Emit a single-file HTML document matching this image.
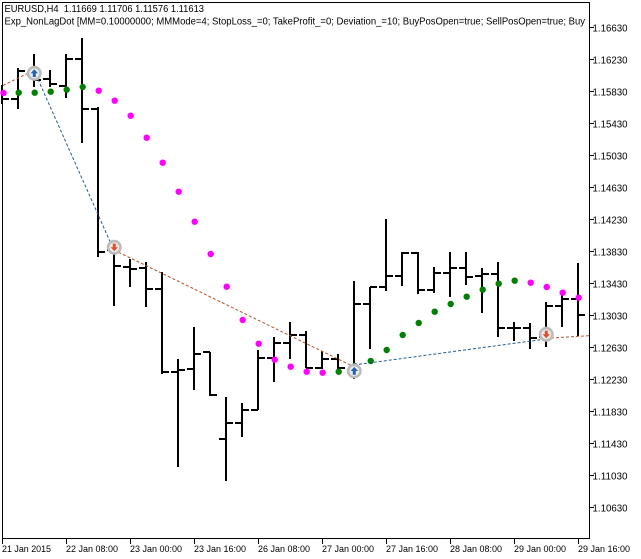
<!DOCTYPE html>
<html><head><meta charset="utf-8"><style>
html,body{margin:0;padding:0;background:#fff;}
svg{display:block;}
text{font-family:"Liberation Sans",Arial,sans-serif;fill:#000;white-space:pre;}
</style></head><body>
<svg width="641" height="559" viewBox="0 0 641 559" xmlns="http://www.w3.org/2000/svg">
<rect width="641" height="559" fill="#fff"/>
<!-- plot border -->
<rect x="2.5" y="2.5" width="587" height="536" fill="none" stroke="#000" stroke-width="1"/>
<!-- price ticks -->
<g stroke="#000" stroke-width="1">
<line x1="590" y1="27.5" x2="594" y2="27.5"/><line x1="590" y1="59.5" x2="594" y2="59.5"/>
<line x1="590" y1="91.5" x2="594" y2="91.5"/><line x1="590" y1="123.5" x2="594" y2="123.5"/>
<line x1="590" y1="155.5" x2="594" y2="155.5"/><line x1="590" y1="187.5" x2="594" y2="187.5"/>
<line x1="590" y1="219.5" x2="594" y2="219.5"/><line x1="590" y1="251.5" x2="594" y2="251.5"/>
<line x1="590" y1="283.5" x2="594" y2="283.5"/><line x1="590" y1="315.5" x2="594" y2="315.5"/>
<line x1="590" y1="347.5" x2="594" y2="347.5"/><line x1="590" y1="379.5" x2="594" y2="379.5"/>
<line x1="590" y1="411.5" x2="594" y2="411.5"/><line x1="590" y1="443.5" x2="594" y2="443.5"/>
<line x1="590" y1="475.5" x2="594" y2="475.5"/><line x1="590" y1="507.5" x2="594" y2="507.5"/>
</g>
<g font-size="10">
<text x="592.5" y="31.3" textLength="35" lengthAdjust="spacingAndGlyphs">1.16630</text>
<text x="592.5" y="63.3" textLength="35" lengthAdjust="spacingAndGlyphs">1.16230</text>
<text x="592.5" y="95.3" textLength="35" lengthAdjust="spacingAndGlyphs">1.15830</text>
<text x="592.5" y="127.3" textLength="35" lengthAdjust="spacingAndGlyphs">1.15430</text>
<text x="592.5" y="159.3" textLength="35" lengthAdjust="spacingAndGlyphs">1.15030</text>
<text x="592.5" y="191.3" textLength="35" lengthAdjust="spacingAndGlyphs">1.14630</text>
<text x="592.5" y="223.3" textLength="35" lengthAdjust="spacingAndGlyphs">1.14230</text>
<text x="592.5" y="255.3" textLength="35" lengthAdjust="spacingAndGlyphs">1.13830</text>
<text x="592.5" y="287.3" textLength="35" lengthAdjust="spacingAndGlyphs">1.13430</text>
<text x="592.5" y="319.3" textLength="35" lengthAdjust="spacingAndGlyphs">1.13030</text>
<text x="592.5" y="351.3" textLength="35" lengthAdjust="spacingAndGlyphs">1.12630</text>
<text x="592.5" y="383.3" textLength="35" lengthAdjust="spacingAndGlyphs">1.12230</text>
<text x="592.5" y="415.3" textLength="35" lengthAdjust="spacingAndGlyphs">1.11830</text>
<text x="592.5" y="447.3" textLength="35" lengthAdjust="spacingAndGlyphs">1.11430</text>
<text x="592.5" y="479.3" textLength="35" lengthAdjust="spacingAndGlyphs">1.11030</text>
<text x="592.5" y="511.3" textLength="35" lengthAdjust="spacingAndGlyphs">1.10630</text>
</g>
<!-- time ticks -->
<g stroke="#000" stroke-width="1">
<line x1="2.5" y1="539" x2="2.5" y2="544"/><line x1="66.5" y1="539" x2="66.5" y2="544"/>
<line x1="130.5" y1="539" x2="130.5" y2="544"/><line x1="194.5" y1="539" x2="194.5" y2="544"/>
<line x1="258.5" y1="539" x2="258.5" y2="544"/><line x1="322.5" y1="539" x2="322.5" y2="544"/>
<line x1="386.5" y1="539" x2="386.5" y2="544"/><line x1="450.5" y1="539" x2="450.5" y2="544"/>
<line x1="514.5" y1="539" x2="514.5" y2="544"/><line x1="578.5" y1="539" x2="578.5" y2="544"/>
</g>
<g font-size="9.5">
<text x="2" y="552" textLength="49" lengthAdjust="spacingAndGlyphs">21 Jan 2015</text>
<text x="66" y="552" textLength="52" lengthAdjust="spacingAndGlyphs">22 Jan 08:00</text>
<text x="130" y="552" textLength="52" lengthAdjust="spacingAndGlyphs">23 Jan 00:00</text>
<text x="194" y="552" textLength="52" lengthAdjust="spacingAndGlyphs">23 Jan 16:00</text>
<text x="258" y="552" textLength="52" lengthAdjust="spacingAndGlyphs">26 Jan 08:00</text>
<text x="322" y="552" textLength="52" lengthAdjust="spacingAndGlyphs">27 Jan 00:00</text>
<text x="386" y="552" textLength="52" lengthAdjust="spacingAndGlyphs">27 Jan 16:00</text>
<text x="450" y="552" textLength="52" lengthAdjust="spacingAndGlyphs">28 Jan 08:00</text>
<text x="514" y="552" textLength="52" lengthAdjust="spacingAndGlyphs">29 Jan 00:00</text>
<text x="578" y="552" textLength="52" lengthAdjust="spacingAndGlyphs">29 Jan 16:00</text>
</g>
<!-- header -->
<g font-size="10">
<text x="4.5" y="12" textLength="199.5" lengthAdjust="spacingAndGlyphs">EURUSD,H4  1.11669 1.11706 1.11576 1.11613</text>
<text x="4.5" y="24.5" textLength="580.5" lengthAdjust="spacingAndGlyphs">Exp_NonLagDot [MM=0.10000000; MMMode=4; StopLoss_=0; TakeProfit_=0; Deviation_=10; BuyPosOpen=true; SellPosOpen=true; Buy</text>
</g>
<!-- bars -->
<g stroke="#000" stroke-width="2" fill="none">
<path d="M2 85V104M2 99H9"/>
<path d="M18 68V109M11 99H18M18 71H25"/>
<path d="M34 54V87M27 75H34M34 80H41"/>
<path d="M50 70V87M43 79H50M50 84H57"/>
<path d="M66 54V98M59 86H66M66 59H73"/>
<path d="M82 38V143M75 59H82M82 109H89"/>
<path d="M98 107V257M91 109H98M98 252H105"/>
<path d="M114 247V306M107 250H114M114 266H121"/>
<path d="M130 259V287M123 267H130M130 269H137"/>
<path d="M146 262V307M139 268H146M146 289H153"/>
<path d="M162 272V374M155 289H162M162 372H169"/>
<path d="M178 359V467M171 372H178M178 370H185"/>
<path d="M194 327V390M187 369H194M194 354H201"/>
<path d="M210 352V396M203 352H210M210 395H217"/>
<path d="M226 397V481M219 439H226M226 423H233"/>
<path d="M242 403V437M235 423H242M242 410H249"/>
<path d="M258 350V410M251 410H258M258 358H265"/>
<path d="M274 337V382M267 358H274M274 343H281"/>
<path d="M290 322V359M283 343H290M290 335H297"/>
<path d="M306 331V368M299 335H306M306 368H313"/>
<path d="M322 351V369M315 368H322M322 359H329"/>
<path d="M338 354V370M331 359H338M338 368H345"/>
<path d="M354 281V379M347 370H354M354 304H361"/>
<path d="M370 287V349M363 304H370M370 287H377"/>
<path d="M386 219V291M379 287H386M386 276H393"/>
<path d="M402 252V286M395 276H402M402 253H409"/>
<path d="M418 252V294M411 253H418M418 290H425"/>
<path d="M434 267V293M427 290H434M434 273H441"/>
<path d="M450 252V297M443 273H450M450 268H457"/>
<path d="M466 252V285M459 268H466M466 277H473"/>
<path d="M482 268V313M475 276H482M482 274H489"/>
<path d="M498 262V337M491 274H498M498 328H505"/>
<path d="M514 322V341M507 328H514M514 328H521"/>
<path d="M530 323V349M523 328H530M530 338H537"/>
<path d="M546 302V347M539 337H546M546 306H553"/>
<path d="M562 291V327M555 306H562M562 299H569"/>
<path d="M578 263V336M571 299H578M578 315H585"/>
</g>
<!-- dots -->
<g fill="#ff00ff">
<circle cx="3.5" cy="93" r="3.2"/>
<circle cx="98.7" cy="90.7" r="3.2"/><circle cx="114.7" cy="100.7" r="3.2"/>
<circle cx="130.7" cy="115.7" r="3.2"/><circle cx="146.7" cy="137.7" r="3.2"/>
<circle cx="162.7" cy="162.7" r="3.2"/><circle cx="178.7" cy="191.7" r="3.2"/>
<circle cx="194.7" cy="221.7" r="3.2"/><circle cx="210.7" cy="254" r="3.2"/>
<circle cx="226.7" cy="286.7" r="3.2"/><circle cx="242.7" cy="320" r="3.2"/>
<circle cx="258.7" cy="343.7" r="3.2"/><circle cx="274.7" cy="359.7" r="3.2"/>
<circle cx="290.7" cy="366.7" r="3.2"/><circle cx="306.7" cy="371.7" r="3.2"/>
<circle cx="322.7" cy="372.7" r="3.2"/>
<circle cx="530.7" cy="282.7" r="3.2"/><circle cx="546.7" cy="287" r="3.2"/>
<circle cx="562.7" cy="292.7" r="3.2"/><circle cx="578.7" cy="297.7" r="3.2"/>
</g>
<g fill="#008000">
<circle cx="18.7" cy="92.7" r="3.2"/><circle cx="34.7" cy="92.7" r="3.2"/>
<circle cx="50.7" cy="91.7" r="3.2"/><circle cx="66.7" cy="89.7" r="3.2"/>
<circle cx="82.7" cy="87" r="3.2"/>
<circle cx="338.7" cy="371.7" r="3.2"/><circle cx="354.7" cy="366" r="3.2"/>
<circle cx="370.7" cy="361" r="3.2"/><circle cx="386.7" cy="350" r="3.2"/>
<circle cx="402.7" cy="335" r="3.2"/><circle cx="418.7" cy="323" r="3.2"/>
<circle cx="434.7" cy="311.7" r="3.2"/><circle cx="450.7" cy="304" r="3.2"/>
<circle cx="466.7" cy="296.7" r="3.2"/><circle cx="482.7" cy="289.7" r="3.2"/>
<circle cx="498.7" cy="283.7" r="3.2"/><circle cx="514.7" cy="280.7" r="3.2"/>
</g>
<!-- trade lines -->
<g fill="none" stroke-width="1" stroke-dasharray="3,2">
<line x1="3" y1="85.5" x2="34" y2="70.3" stroke="#b4532a"/>
<line x1="34" y1="70.3" x2="114" y2="250.5" stroke="#1f5f8f"/>
<line x1="114" y1="250" x2="354" y2="366.8" stroke="#b4532a"/>
<line x1="354" y1="365" x2="546" y2="339" stroke="#1f5f8f"/>
<line x1="546" y1="338.3" x2="589" y2="335.7" stroke="#b4532a"/>
</g>
<!-- trade markers -->
<g>
<circle cx="34.3" cy="73.3" r="6.2" fill="#ececec" stroke="#bcbcbc" stroke-width="2.6"/>
<path d="M34.3 69.3L38 73.3H35.8V77H32.8V73.3H30.6Z" fill="#1e64b0"/>
<circle cx="114.3" cy="247.3" r="6.2" fill="#ececec" stroke="#bcbcbc" stroke-width="2.6"/>
<path d="M114.3 251.3L118 247.3H115.8V243.6H112.8V247.3H110.6Z" fill="#e0502a"/>
<circle cx="354.3" cy="371" r="6.2" fill="#ececec" stroke="#bcbcbc" stroke-width="2.6"/>
<path d="M354.3 367L358 371H355.8V374.7H352.8V371H350.6Z" fill="#1e64b0"/>
<circle cx="546.3" cy="334.3" r="6.2" fill="#ececec" stroke="#bcbcbc" stroke-width="2.6"/>
<path d="M546.3 338.3L550 334.3H547.8V330.6H544.8V334.3H542.6Z" fill="#e0502a"/>
</g>
</svg>
</body></html>
